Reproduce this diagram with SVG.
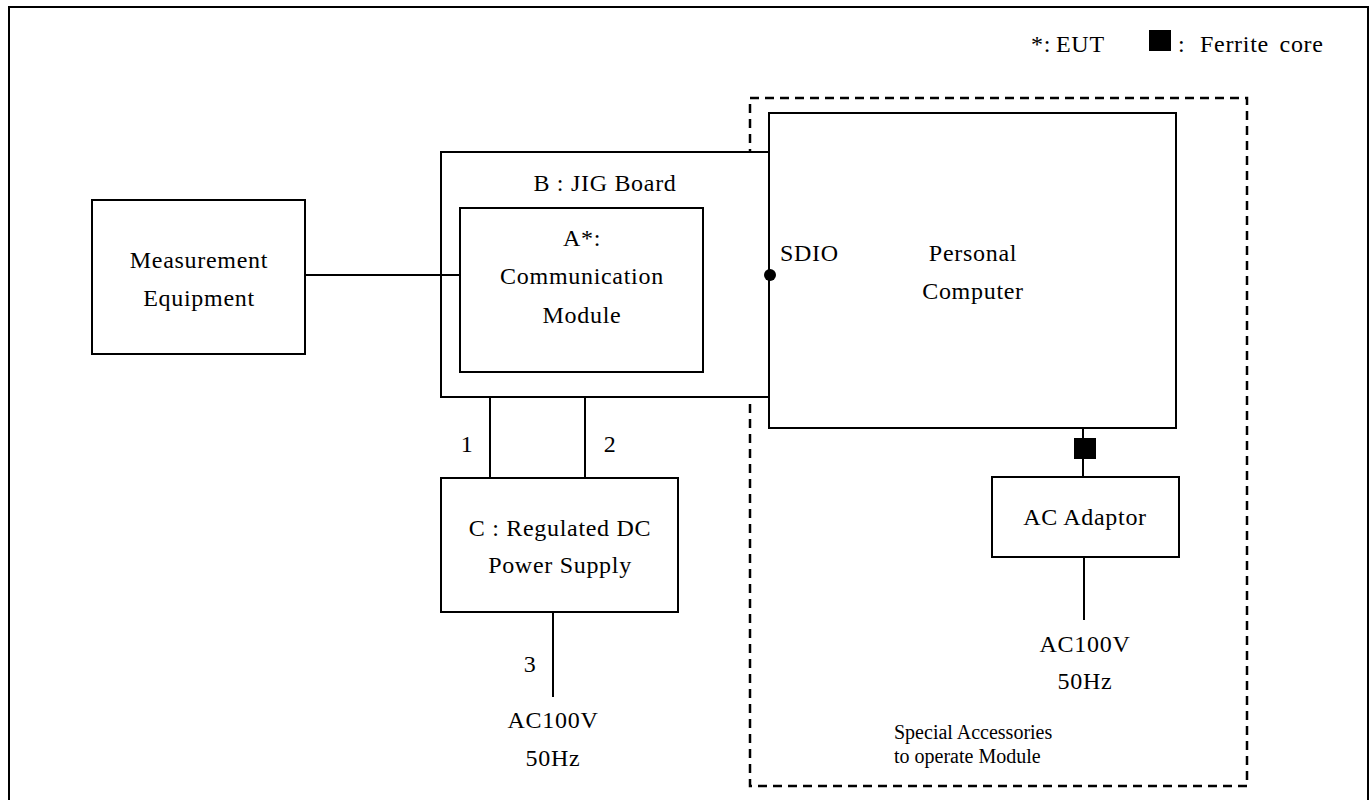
<svg xmlns="http://www.w3.org/2000/svg" width="1371" height="800" viewBox="0 0 1371 800">
<style>
.box{fill:#fff;stroke:#000;stroke-width:2}
.ln{stroke:#000;stroke-width:2;fill:none}
.t{font-family:"Liberation Serif","Times New Roman",serif;font-size:24px;letter-spacing:0.7px;fill:#000;text-anchor:middle}
.s{font-family:"Liberation Serif","Times New Roman",serif;font-size:20px;fill:#000}
</style>
<rect width="1371" height="800" fill="#fff"/>
<path class="ln" d="M9,800 V7 H1368 V800" stroke-width="2.5"/>
<g id="legend">
<text class="t" x="1031" y="52" style="text-anchor:start">*:</text>
<text class="t" x="1056" y="52" style="text-anchor:start">EUT</text>
<rect x="1149" y="30" width="22" height="21" fill="#000"/>
<text class="t" x="1178" y="52" style="text-anchor:start">:</text>
<text class="t" x="1200" y="52" style="text-anchor:start;word-spacing:4px">Ferrite core</text>
</g>
<g id="special-accessories">
<rect x="750" y="98" width="497" height="688" fill="none" stroke="#000" stroke-width="2.5" stroke-dasharray="9 6"/>
<text class="s" x="894" y="739">Special Accessories</text>
<text class="s" x="894" y="763">to operate Module</text>
</g>
<g id="measurement">
<rect class="box" x="92" y="200" width="213" height="154"/>
<text class="t" x="199" y="268">Measurement</text>
<text class="t" x="199" y="306">Equipment</text>
</g>
<g id="jig">
<rect class="box" x="441" y="152" width="328" height="245" fill="none"/>
<text class="t" x="605" y="191">B : JIG Board</text>
</g>
<g id="module">
<rect class="box" x="460" y="208" width="243" height="164"/>
<text class="t" x="582" y="246">A*:</text>
<text class="t" x="582" y="284">Communication</text>
<text class="t" x="582" y="323">Module</text>
</g>
<g id="pc">
<rect class="box" x="769" y="113" width="407" height="315" fill="none"/>
<text class="t" x="780" y="261" style="text-anchor:start">SDIO</text>
<text class="t" x="973" y="261">Personal</text>
<text class="t" x="973" y="299">Computer</text>
</g>
<g id="psu">
<rect class="box" x="441" y="478" width="237" height="134"/>
<text class="t" x="560" y="536">C : Regulated DC</text>
<text class="t" x="560" y="573">Power Supply</text>
</g>
<g id="adaptor">
<rect class="box" x="992" y="477" width="187" height="80"/>
<text class="t" x="1085" y="525">AC Adaptor</text>
</g>
<g id="connectors">
<line class="ln" x1="305" y1="275" x2="460" y2="275"/>
<circle cx="770" cy="275" r="6" fill="#000"/>
<line class="ln" x1="490" y1="397" x2="490" y2="478"/>
<line class="ln" x1="585" y1="397" x2="585" y2="478"/>
<text class="t" x="467" y="452">1</text>
<text class="t" x="610" y="452">2</text>
<line class="ln" x1="553" y1="612" x2="553" y2="697"/>
<text class="t" x="530" y="672">3</text>
<text class="t" x="553" y="728">AC100V</text>
<text class="t" x="553" y="766">50Hz</text>
<line class="ln" x1="1083" y1="428" x2="1083" y2="477"/>
<rect x="1074" y="438" width="22" height="21" fill="#000"/>
<line class="ln" x1="1084" y1="557" x2="1084" y2="620"/>
<text class="t" x="1085" y="652">AC100V</text>
<text class="t" x="1085" y="689">50Hz</text>
</g>
</svg>
